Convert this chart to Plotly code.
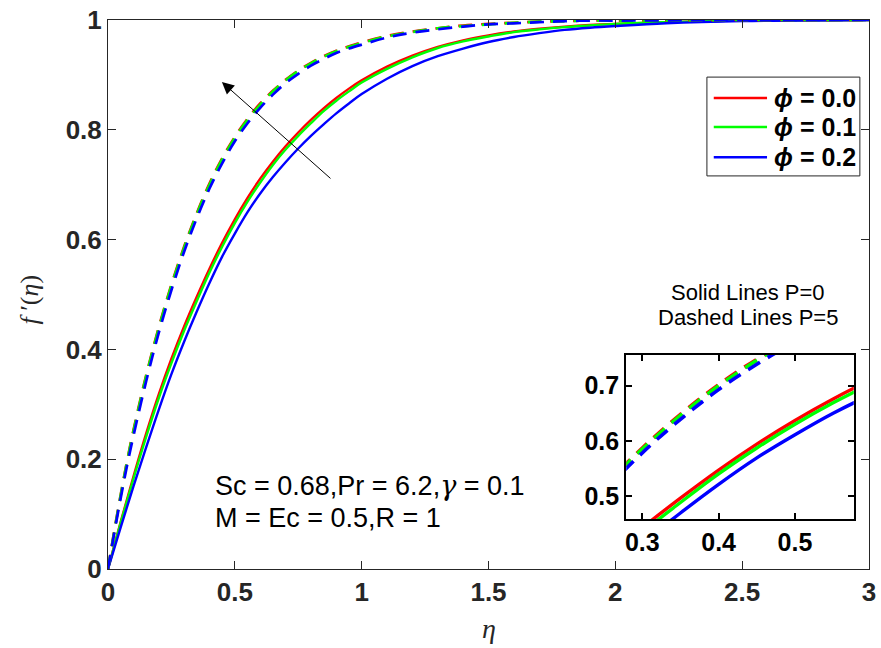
import plotly.graph_objects as go

# Velocity profiles f'(eta) for three nanoparticle volume fractions
phi_labels = ["0.0", "0.1", "0.2"]
colors = ["#ff0000", "#00ff00", "#0000ff"]

# Solid lines: P = 0
eta_p0 = [0, 0.05, 0.1, 0.15, 0.2, 0.25, 0.3, 0.35, 0.4, 0.45, 0.5, 0.55, 0.6, 0.65, 0.7,
          0.75, 0.8, 0.85, 0.9, 0.95, 1.0,
          1.1, 1.2, 1.3, 1.4, 1.5, 1.6, 1.7, 1.8, 1.9, 2.0, 2.2, 2.5, 3.0]
fp_p0_phi00 = [0, 0.086, 0.168, 0.246, 0.318, 0.383, 0.442, 0.496, 0.547, 0.594, 0.637, 0.676, 0.711, 0.742, 0.770,
               0.795, 0.818, 0.839, 0.858, 0.875, 0.890,
               0.915, 0.935, 0.951, 0.963, 0.972, 0.979, 0.984, 0.988, 0.991, 0.993, 0.996, 0.999, 1.0]
fp_p0_phi01 = [0, 0.084, 0.164, 0.240, 0.311, 0.375, 0.434, 0.488, 0.540, 0.587, 0.630, 0.669, 0.704, 0.736, 0.764,
               0.789, 0.812, 0.834, 0.853, 0.870, 0.886,
               0.911, 0.932, 0.949, 0.961, 0.970, 0.978, 0.983, 0.987, 0.990, 0.993, 0.996, 0.999, 1.0]
fp_p0_phi02 = [0, 0.076, 0.150, 0.221, 0.290, 0.355, 0.414, 0.469, 0.521, 0.569, 0.611, 0.650, 0.684, 0.714, 0.741,
               0.766, 0.789, 0.810, 0.830, 0.848, 0.865,
               0.893, 0.916, 0.934, 0.948, 0.960, 0.969, 0.976, 0.982, 0.986, 0.989, 0.994, 0.998, 1.0]

# Dashed lines: P = 5
eta_p5 = [0, 0.025, 0.05, 0.075, 0.1, 0.15, 0.2, 0.25, 0.3, 0.35, 0.4, 0.45, 0.5, 0.55, 0.6, 0.65, 0.7,
          0.75, 0.8, 0.85, 0.9, 0.95, 1.0,
          1.1, 1.2, 1.3, 1.4, 1.5, 1.6, 1.7, 1.8, 1.9, 2.0, 2.5, 3.0]
fp_p5_phi00 = [0, 0.070, 0.135, 0.196, 0.252, 0.352, 0.440, 0.518, 0.587, 0.648, 0.702, 0.748, 0.787, 0.820, 0.848,
               0.871, 0.891, 0.908, 0.922, 0.934, 0.944, 0.952, 0.959,
               0.971, 0.979, 0.985, 0.990, 0.993, 0.995, 0.997, 0.998, 0.999, 0.999, 1.0, 1.0]
fp_p5_phi01 = [0, 0.069, 0.134, 0.195, 0.250, 0.350, 0.438, 0.516, 0.585, 0.646, 0.700, 0.746, 0.785, 0.818, 0.846,
               0.870, 0.890, 0.907, 0.921, 0.933, 0.943, 0.951, 0.958,
               0.970, 0.978, 0.985, 0.989, 0.992, 0.995, 0.997, 0.998, 0.999, 0.999, 1.0, 1.0]
fp_p5_phi02 = [0, 0.066, 0.129, 0.188, 0.242, 0.341, 0.430, 0.508, 0.578, 0.639, 0.693, 0.739, 0.779, 0.812, 0.840,
               0.864, 0.885, 0.902, 0.917, 0.929, 0.940, 0.948, 0.955,
               0.968, 0.977, 0.983, 0.988, 0.992, 0.994, 0.996, 0.998, 0.999, 0.999, 1.0, 1.0]

solid_sets = [fp_p0_phi00, fp_p0_phi01, fp_p0_phi02]
dashed_sets = [fp_p5_phi00, fp_p5_phi01, fp_p5_phi02]

x_ticks = [0, 0.5, 1, 1.5, 2, 2.5, 3]
x_ticktext = ["0", "0.5", "1", "1.5", "2", "2.5", "3"]
y_ticks = [0, 0.2, 0.4, 0.6, 0.8, 1]
y_ticktext = ["0", "0.2", "0.4", "0.6", "0.8", "1"]
inset_x_ticks = [0.3, 0.4, 0.5]
inset_y_ticks = [0.5, 0.6, 0.7]

SANS = "Liberation Sans, Arial, sans-serif"
SERIF = "Liberation Serif, Times New Roman, serif"
AXC = "#262626"

fig = go.Figure()

for sub, (xa, ya, w_s, w_d) in enumerate([("x", "y", 2.4, 2.7), ("x2", "y2", 3.4, 3.6)]):
    for lab, col, ys in zip(phi_labels, colors, solid_sets):
        fig.add_trace(go.Scatter(
            x=eta_p0, y=ys, mode="lines", xaxis=xa, yaxis=ya,
            line=dict(color=col, width=w_s, shape="spline", smoothing=1),
            name=f"ϕ = {lab}", showlegend=False,
        ))
    for col, ys in zip(colors, dashed_sets):
        fig.add_trace(go.Scatter(
            x=eta_p5, y=ys, mode="lines", xaxis=xa, yaxis=ya,
            line=dict(color=col, width=w_d, dash="14px,9px", shape="spline", smoothing=1),
            showlegend=False,
        ))

common_axis = dict(showgrid=False, zeroline=False, showline=True, mirror="ticks",
                   ticks="inside", automargin=False)

fig.update_layout(
    width=881, height=648,
    margin=dict(l=108, r=12, t=20, b=79, autoexpand=False),
    paper_bgcolor="white", plot_bgcolor="white",
    showlegend=False,
    xaxis=dict(range=[0, 3], tickvals=x_ticks, ticktext=x_ticktext,
               linecolor=AXC, linewidth=1, ticklen=8, tickcolor=AXC,
               tickfont=dict(family=SANS, size=26, color=AXC, weight="bold"),
               **common_axis),
    yaxis=dict(range=[0, 1], tickvals=y_ticks, ticktext=y_ticktext,
               linecolor=AXC, linewidth=1, ticklen=8, tickcolor=AXC,
               tickfont=dict(family=SANS, size=26, color=AXC, weight="bold"),
               **common_axis),
    xaxis2=dict(domain=[0.681, 0.980], anchor="y2", range=[0.279, 0.577],
                tickvals=inset_x_ticks, ticktext=["0.3", "0.4", "0.5"],
                linecolor="black", linewidth=2, ticklen=6, tickwidth=2, tickcolor="black",
                tickfont=dict(family=SANS, size=25, color="black", weight="bold"),
                **common_axis),
    yaxis2=dict(domain=[0.091, 0.390], anchor="x2", range=[0.458, 0.756],
                tickvals=inset_y_ticks, ticktext=["0.5", "0.6", "0.7"],
                linecolor="black", linewidth=2, ticklen=6, tickwidth=2, tickcolor="black",
                tickfont=dict(family=SANS, size=25, color="black", weight="bold"),
                **common_axis),
)

# Legend box drawn in paper coordinates: frame, line samples and labels
legend_box = dict(x0=0.787, x1=0.988, y0=0.716, y1=0.896)
legend_rows_y = [0.858, 0.805, 0.750]
legend_line_x = (0.796, 0.866)
legend_text_x = 0.8725

shapes = [dict(type="rect", xref="paper", yref="paper", layer="above",
               line=dict(color=AXC, width=1), fillcolor="white", **legend_box)]
annotations = []
for lab, col, yy in zip(phi_labels, colors, legend_rows_y):
    shapes.append(dict(type="line", xref="paper", yref="paper", layer="above",
                       x0=legend_line_x[0], x1=legend_line_x[1], y0=yy, y1=yy,
                       line=dict(color=col, width=2.4)))
    annotations.append(dict(text=f"<b><i>ϕ</i> = {lab}</b>", xref="paper", yref="paper",
                            x=legend_text_x, y=yy, xanchor="left", yanchor="middle",
                            showarrow=False, font=dict(family=SANS, size=25, color="black")))

annotations += [
    # axis titles
    dict(text="<i>f</i> ′(<i>η</i>)", xref="paper", yref="paper", x=-0.103, y=0.49,
         xanchor="center", yanchor="middle",
         textangle=-90, showarrow=False, font=dict(family=SERIF, size=26, color=AXC)),
    dict(text="<i>η</i>", xref="paper", yref="paper", x=0.5, y=-0.108,
         xanchor="center", yanchor="middle",
         showarrow=False, font=dict(family=SERIF, size=28, color=AXC)),
    # parameter block
    dict(text="Sc = 0.68,Pr = 6.2,<span style='font-family:DejaVu Serif'><i>γ</i></span> = 0.1",
         xref="paper", yref="paper", x=0.138, y=0.153, xanchor="left", yanchor="middle",
         showarrow=False, font=dict(family=SANS, size=27, color="black")),
    dict(text="M = Ec = 0.5,R = 1", xref="paper", yref="paper",
         x=0.138, y=0.093, xanchor="left", yanchor="middle", showarrow=False,
         font=dict(family=SANS, size=27, color="black")),
    # line-style key above the inset
    dict(text="Solid Lines P=0", xref="paper", yref="paper", x=0.841, y=0.503,
         xanchor="center", yanchor="middle",
         showarrow=False, font=dict(family=SANS, size=22, color="black")),
    dict(text="Dashed Lines P=5", xref="paper", yref="paper", x=0.841, y=0.458,
         xanchor="center", yanchor="middle",
         showarrow=False, font=dict(family=SANS, size=22, color="black")),
    # increasing-P arrow
    dict(x=0.449, y=0.887, ax=0.883, ay=0.709, xref="x", yref="y", axref="x", ayref="y",
         text="", showarrow=True, arrowhead=2, arrowsize=2.4, arrowwidth=1, arrowcolor="black"),
]
fig.update_layout(annotations=annotations, shapes=shapes)

fig.write_html("out.html")
